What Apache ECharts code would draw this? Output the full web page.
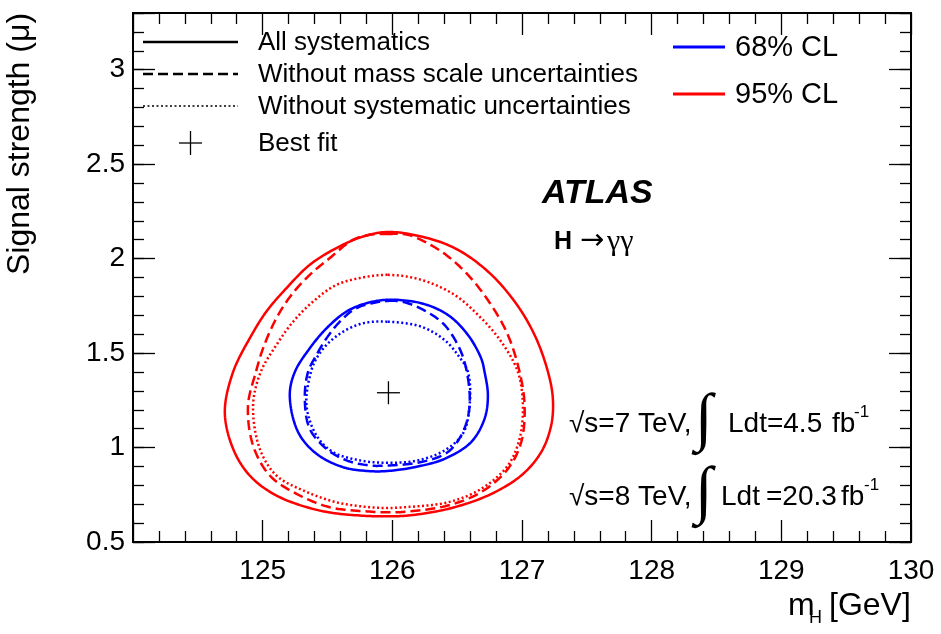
<!DOCTYPE html>
<html>
<head>
<meta charset="utf-8">
<title>H→γγ signal strength vs mass</title>
<script src="https://cdn.jsdelivr.net/npm/echarts@6/dist/echarts.min.js"></script>
<style>
  html, body { margin: 0; padding: 0; background: #fff; }
  #chart { width: 941px; height: 634px; }
</style>
</head>
<body>
<div id="chart"></div>
<script>
// Axis ranges and tick labels
const xRange = [124, 130];
const yRange = [0.5, 3.3];
const xTickLabels = [125, 126, 127, 128, 129, 130];
const yTickLabels = [0.5, 1, 1.5, 2, 2.5, 3];

// Best-fit point (mH [GeV], mu)
const bestFit = [[125.97, 1.29]];

// 95% CL contours (closed loops of [mH, mu])
const cl95All = [
  [125.965,2.141],[126.222,2.117],[126.480,2.056],[126.737,1.932],[126.943,1.773],[127.097,1.596],
  [127.200,1.401],[127.238,1.258],[127.225,1.117],[127.148,0.976],[126.994,0.852],[126.737,0.746],
  [126.428,0.675],[126.120,0.640],[125.965,0.636],[125.749,0.640],[125.441,0.666],[125.106,0.746],
  [124.900,0.852],[124.772,0.993],[124.708,1.188],[124.772,1.400],[124.900,1.578],[125.029,1.720],
  [125.184,1.844],[125.363,1.967],[125.569,2.056],[125.775,2.117]
];
const cl95NoMass = [
  [125.965,2.130],[126.120,2.126],[126.377,2.038],[126.583,1.914],[126.762,1.755],[126.891,1.596],
  [126.981,1.401],[127.020,1.223],[126.994,1.029],[126.891,0.887],[126.685,0.764],[126.428,0.693],
  [126.120,0.661],[125.965,0.657],[125.826,0.661],[125.518,0.684],[125.261,0.755],[125.055,0.852],
  [124.926,1.011],[124.887,1.223],[124.948,1.400],[125.003,1.525],[125.106,1.685],[125.222,1.808],
  [125.363,1.914],[125.518,2.003],[125.698,2.100],[125.826,2.126]
];
const cl95NoSyst = [
  [125.965,1.914],[126.222,1.888],[126.480,1.808],[126.685,1.685],[126.840,1.560],[126.968,1.401],
  [127.007,1.223],[126.981,1.046],[126.891,0.905],[126.685,0.781],[126.428,0.710],[126.094,0.684],
  [125.965,0.680],[125.826,0.684],[125.569,0.710],[125.312,0.773],[125.106,0.852],[124.978,0.993],
  [124.926,1.223],[124.985,1.400],[125.106,1.543],[125.235,1.666],[125.389,1.773],[125.569,1.861],
  [125.749,1.897]
];

// 68% CL contours
const cl68All = [
  [125.965,1.782],[126.222,1.764],[126.428,1.702],[126.583,1.596],[126.685,1.472],[126.711,1.401],
  [126.737,1.276],[126.711,1.152],[126.608,1.029],[126.403,0.940],[126.171,0.896],[125.965,0.876],
  [125.826,0.875],[125.620,0.896],[125.415,0.967],[125.273,1.082],[125.209,1.276],[125.248,1.400],
  [125.363,1.525],[125.492,1.631],[125.647,1.720],[125.801,1.764]
];
const cl68NoMass = [
  [125.965,1.776],[126.120,1.764],[126.377,1.666],[126.505,1.543],[126.569,1.419],[126.596,1.223],
  [126.544,1.082],[126.428,0.976],[126.222,0.923],[125.965,0.905],[125.826,0.905],[125.647,0.932],
  [125.492,0.993],[125.363,1.099],[125.325,1.258],[125.350,1.400],[125.415,1.490],[125.492,1.578],
  [125.595,1.666],[125.724,1.738]
];
const cl68NoSyst = [
  [125.965,1.666],[126.222,1.640],[126.403,1.569],[126.505,1.490],[126.583,1.400],[126.596,1.223],
  [126.544,1.073],[126.403,0.985],[126.197,0.932],[125.965,0.919],[125.749,0.932],[125.543,0.976],
  [125.415,1.064],[125.338,1.223],[125.372,1.400],[125.415,1.472],[125.492,1.543],[125.620,1.613],
  [125.775,1.658]
];

const FONT = "'Liberation Sans', Arial, Helvetica, sans-serif";
const SERIF = "'Liberation Serif', 'DejaVu Serif', serif";
const BLUE = '#0000ff';
const RED = '#ff0000';
const DASH = [10, 5];
const DOT = [2, 2.5];

const tickStyle = { color: '#000', width: 1.3 };

function makeXAxis(position, showLabels) {
  return {
    type: 'value', min: xRange[0], max: xRange[1], interval: 1, position: position,
    axisLine: { show: false },
    splitLine: { show: false },
    axisTick: { show: true, inside: true, length: 22, lineStyle: tickStyle },
    minorTick: { show: true, splitNumber: 5, length: 11, lineStyle: tickStyle },
    axisLabel: {
      show: showLabels, margin: 15, color: '#000', fontFamily: FONT, fontSize: 28,
      formatter: v => (xTickLabels.some(t => Math.abs(t - v) < 1e-6) ? String(v) : '')
    }
  };
}
function makeYAxis(position, interval, tickLen, showLabels) {
  return {
    type: 'value', min: yRange[0], max: yRange[1], interval: interval, position: position,
    axisLine: { show: false },
    splitLine: { show: false },
    axisTick: { show: true, inside: true, length: tickLen, lineStyle: tickStyle },
    axisLabel: {
      show: showLabels, margin: 8, color: '#000', fontFamily: FONT, fontSize: 28,
      formatter: v => (yTickLabels.some(t => Math.abs(t - v) < 1e-6) ? String(v) : '')
    }
  };
}

// Closed centripetal Catmull-Rom spline through pixel points
function closedSpline(pts, steps) {
  const out = [];
  const n = pts.length;
  const dist = (p, q) => Math.max(Math.sqrt(Math.hypot(q[0] - p[0], q[1] - p[1])), 1e-4);
  const mix = (p, q, a, b, t) => {
    const w = (t - a) / (b - a);
    return [p[0] + (q[0] - p[0]) * w, p[1] + (q[1] - p[1]) * w];
  };
  for (let i = 0; i < n; i++) {
    const p0 = pts[(i - 1 + n) % n], p1 = pts[i], p2 = pts[(i + 1) % n], p3 = pts[(i + 2) % n];
    const t0 = 0, t1 = t0 + dist(p0, p1), t2 = t1 + dist(p1, p2), t3 = t2 + dist(p2, p3);
    for (let s = 0; s < steps; s++) {
      const t = t1 + (t2 - t1) * s / steps;
      const a1 = mix(p0, p1, t0, t1, t);
      const a2 = mix(p1, p2, t1, t2, t);
      const a3 = mix(p2, p3, t2, t3, t);
      const b1 = mix(a1, a2, t0, t2, t);
      const b2 = mix(a2, a3, t1, t3, t);
      out.push(mix(b1, b2, t1, t2, t));
    }
  }
  out.push(out[0]);
  return out;
}

// Each contour is a custom series whose points are mapped through the axes
function contour(data, color, dash) {
  return {
    type: 'custom', data: data, xAxisIndex: 0, yAxisIndex: 0, silent: true, z: 3,
    encode: { x: 0, y: 1 },
    renderItem: (params, api) => {
      if (params.dataIndex !== 0) return null;
      const pix = data.map(p => api.coord(p));
      return {
        type: 'polyline',
        shape: { points: closedSpline(pix, 14) },
        style: { stroke: color, lineWidth: 2.5, fill: null, lineDash: dash, lineCap: 'butt', lineJoin: 'round' }
      };
    }
  };
}

const chart = echarts.init(document.getElementById('chart'), null, { renderer: 'canvas' });

function txt(x, y, text, font, align) {
  return {
    type: 'text', x: x, y: y,
    style: {
      text: text, font: font, fill: '#000',
      align: align || 'left', verticalAlign: 'middle',
      textAlign: align || 'left', textVerticalAlign: 'middle'
    }
  };
}

const legendLeft = [
  { label: 'All systematics', dash: null, width: 2.5, y: 42 },
  { label: 'Without mass scale uncertainties', dash: DASH, width: 2.5, y: 74 },
  { label: 'Without systematic uncertainties', dash: DOT, width: 1.6, y: 106 }
];

const graphics = [];
legendLeft.forEach(e => {
  graphics.push({
    type: 'line', shape: { x1: 143, y1: e.y, x2: 238, y2: e.y },
    style: { stroke: '#000', lineWidth: e.width, lineDash: e.dash }
  });
  graphics.push(txt(258, e.y + 1, e.label, '26px ' + FONT));
});
// best-fit legend marker
graphics.push({ type: 'line', shape: { x1: 179, y1: 143, x2: 202, y2: 143 }, style: { stroke: '#000', lineWidth: 1.3 } });
graphics.push({ type: 'line', shape: { x1: 190.5, y1: 131, x2: 190.5, y2: 155 }, style: { stroke: '#000', lineWidth: 1.3 } });
graphics.push(txt(258, 144, 'Best fit', '26px ' + FONT));

// confidence-level legend
[{ label: '68% CL', color: BLUE, y: 47 }, { label: '95% CL', color: RED, y: 94 }].forEach(e => {
  graphics.push({ type: 'line', shape: { x1: 673, y1: e.y, x2: 725, y2: e.y }, style: { stroke: e.color, lineWidth: 3 } });
  graphics.push(txt(735, e.y + 1, e.label, '29px ' + FONT));
});

// experiment and channel labels
graphics.push(txt(542, 194, 'ATLAS', 'italic bold 34px ' + FONT));
graphics.push(txt(554, 242, 'H', 'bold 25px ' + FONT));
graphics.push(txt(580, 241, '\u2192', "29px 'DejaVu Sans', sans-serif"));
graphics.push(txt(607, 242, '\u03B3\u03B3', '30px ' + SERIF));

// luminosity lines
[{ energy: '\u221As=7 TeV,', y: 424, parts: [[728, 'Ldt=4.5'], [832, 'fb']], sup: 854 },
 { energy: '\u221As=8 TeV,', y: 497, parts: [[721, 'Ldt'], [766, '=20.3'], [841, 'fb']], sup: 864 }].forEach(e => {
  graphics.push(txt(569, e.y, e.energy, '28px ' + FONT));
  graphics.push(txt(695, e.y - 3, '\u222B', '64px ' + SERIF));
  e.parts.forEach(p => graphics.push(txt(p[0], e.y, p[1], '28px ' + FONT)));
  graphics.push(txt(e.sup, e.y - 12, '-1', '17px ' + FONT));
});

// axis titles
graphics.push({
  type: 'text', x: 20, y: 144, rotation: Math.PI / 2,
  style: {
    text: 'Signal strength (\u03BC)', font: '32px ' + FONT, fill: '#000',
    align: 'center', verticalAlign: 'middle', textAlign: 'center', textVerticalAlign: 'middle'
  }
});
graphics.push(txt(788, 606, 'm', '32px ' + FONT));
graphics.push(txt(809, 618, 'H', '18px ' + FONT));
graphics.push(txt(829, 606, '[GeV]', '32px ' + FONT));

const option = {
  animation: false,
  backgroundColor: '#fff',
  grid: {
    left: 133, right: 30, top: 13, bottom: 92,
    show: true, borderColor: '#000', borderWidth: 2, backgroundColor: 'transparent'
  },
  xAxis: [makeXAxis('bottom', true), makeXAxis('top', false)],
  yAxis: [
    makeYAxis('left', 0.5, 22, true),
    makeYAxis('left', 0.1, 11, false),
    makeYAxis('right', 0.5, 22, false),
    makeYAxis('right', 0.1, 11, false)
  ],
  series: [
    contour(cl95All, RED, null),
    contour(cl95NoMass, RED, DASH),
    contour(cl95NoSyst, RED, DOT),
    contour(cl68All, BLUE, null),
    contour(cl68NoMass, BLUE, DASH),
    contour(cl68NoSyst, BLUE, DOT),
    {
      type: 'custom', data: bestFit, xAxisIndex: 0, yAxisIndex: 0, silent: true, z: 4,
      encode: { x: 0, y: 1 },
      renderItem: (params, api) => {
        const p = api.coord([api.value(0), api.value(1)]);
        const h = 11.5;
        return {
          type: 'group',
          children: [
            { type: 'line', shape: { x1: p[0] - h, y1: p[1], x2: p[0] + h, y2: p[1] }, style: { stroke: '#000', lineWidth: 1.3 } },
            { type: 'line', shape: { x1: p[0], y1: p[1] - h, x2: p[0], y2: p[1] + h }, style: { stroke: '#000', lineWidth: 1.3 } }
          ]
        };
      }
    }
  ],
  graphic: graphics
};

chart.setOption(option);
</script>
</body>
</html>
